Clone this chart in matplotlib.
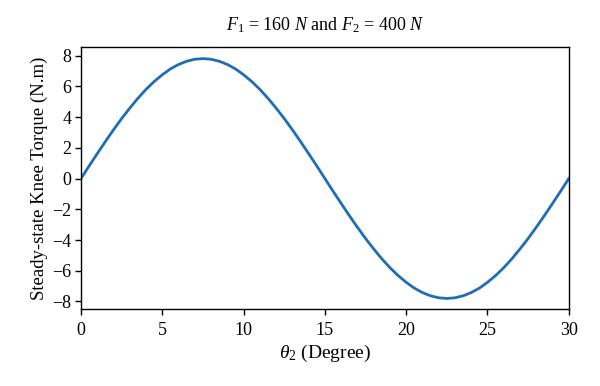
import matplotlib
matplotlib.use("Agg")
import matplotlib.pyplot as plt

plt.rcParams['font.family'] = ['Liberation Serif', 'DejaVu Serif']
plt.rcParams['mathtext.fontset'] = 'custom'
plt.rcParams['mathtext.rm'] = 'Liberation Serif'
plt.rcParams['mathtext.it'] = 'Liberation Serif:italic'

theta2 = [0, 0.5, 1, 1.5, 2, 2.5, 3, 3.5, 4, 4.5, 5, 5.5, 6, 6.5, 7, 7.5,
          8, 8.5, 9, 9.5, 10, 10.5, 11, 11.5, 12, 12.5, 13, 13.5, 14, 14.5, 15,
          15.5, 16, 16.5, 17, 17.5, 18, 18.5, 19, 19.5, 20, 20.5, 21, 21.5, 22, 22.5,
          23, 23.5, 24, 24.5, 25, 25.5, 26, 26.5, 27, 27.5, 28, 28.5, 29, 29.5, 30]
torque = [0, 0.82, 1.62, 2.41, 3.17, 3.90, 4.58, 5.22, 5.80, 6.31, 6.75, 7.13, 7.42, 7.63, 7.76, 7.80,
          7.76, 7.63, 7.42, 7.13, 6.75, 6.31, 5.80, 5.22, 4.58, 3.90, 3.17, 2.41, 1.62, 0.82, 0,
          -0.82, -1.62, -2.41, -3.17, -3.90, -4.58, -5.22, -5.80, -6.31, -6.75, -7.13, -7.42, -7.63, -7.76, -7.80,
          -7.76, -7.63, -7.42, -7.13, -6.75, -6.31, -5.80, -5.22, -4.58, -3.90, -3.17, -2.41, -1.62, -0.82, 0]
xticks = [0, 5, 10, 15, 20, 25, 30]
yticks = [-8, -6, -4, -2, 0, 2, 4, 6, 8]

fig = plt.figure(figsize=(6, 3.86), dpi=100)
ax = fig.add_axes([0.135, 0.199, 0.813, 0.679])
ax.plot(theta2, torque, color='#1f6eb5', linewidth=2)
ax.set_xlim(0, 30)
ax.set_ylim(-8.5, 8.55)
ax.set_xticks(xticks)
ax.set_yticks(yticks)
ax.set_yticklabels([str(v).replace('-', '\u2212') for v in yticks])
ax.tick_params(labelsize=13, direction='out', length=4, width=1, top=False, right=False, pad=3)
ax.tick_params(axis='x', pad=5)
for s in ax.spines.values():
    s.set_linewidth(1)
ax.set_xlabel(r'$\theta_{2}$ (Degree)', fontsize=14, labelpad=3)
ax.set_ylabel('Steady-state Knee Torque (N.m)', fontsize=13.5, labelpad=3)
ax.set_title(r'$F_{1}$ = 160 $N$ and $F_{2}$ = 400 $N$', fontsize=13, pad=12)
fig.savefig('out.png', dpi=100)
